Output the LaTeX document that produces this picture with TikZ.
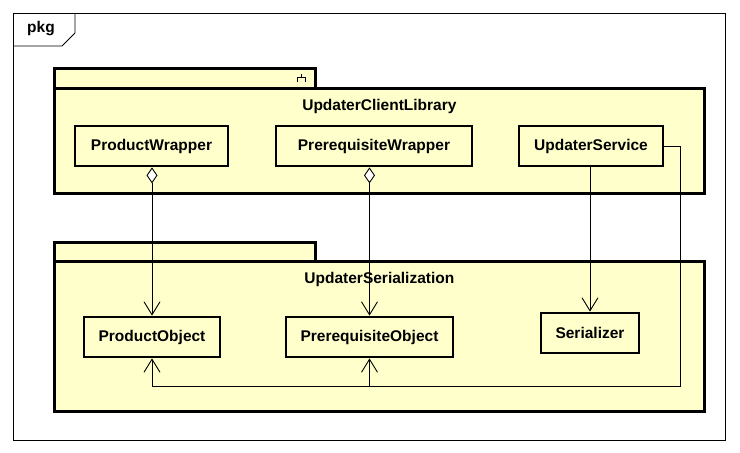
\documentclass[tikz,border=0pt]{standalone}
\usepackage{fontspec}
\setmainfont{Liberation Sans}
\usetikzlibrary{arrows.meta}

\definecolor{pkgyellow}{RGB}{255,255,204}

\begin{document}
\begin{tikzpicture}[
  x=1pt, y=-1pt,
  font=\fontsize{15.5}{18}\selectfont\bfseries,
  box/.style={draw, line width=2.8pt, fill=pkgyellow, inner sep=0pt},
  tab/.style={box, anchor=north west, minimum width=261pt, minimum height=20pt},
  pkgbody/.style={box, anchor=north west, minimum width=650pt},
  cls/.style={box, minimum height=40pt},
  pkgname/.style={anchor=north, yshift=-9pt},
  arr/.style={-{Straight Barb[length=13pt, width=16pt]}, line width=0.9pt},
  agg/.style={{Diamond[length=16pt, width=11pt, fill=white]}-{Straight Barb[length=13pt, width=16pt]},
              line width=0.9pt}
]
  \useasboundingbox (0,0) rectangle (740,453);

  % frame
  \draw[line width=0.9pt] (13,13) rectangle (725,440);
  \draw[line width=0.9pt] (13,46) -- (62,46) -- (75,33) -- (75,13);
  \node (pkg) at (41,29) {pkg};

  % UpdaterClientLibrary
  \node[tab]                          (libtab) at (53,67)  {};
  \node[pkgbody, minimum height=105pt] (lib)    at (53,87)  {};
  \node[pkgname] (libname) at (lib.north) {UpdaterClientLibrary};
  \draw[line width=0.9pt] (301,74) -- (301,77) (297,81.5) -- (297,77) -- (305,77) -- (305,81.5);

  % UpdaterSerialization
  \node[tab]                          (sertab) at (53,241) {};
  \node[pkgbody, minimum height=150pt] (ser)    at (53,260) {};
  \node[pkgname] (sername) at (ser.north) {UpdaterSerialization};

  % classes
  \node[cls, minimum width=153pt] (prodwrap) at (151.5,146) {ProductWrapper};
  \node[cls, minimum width=196pt] (prewrap)  at (374,146)   {PrerequisiteWrapper};
  \node[cls, minimum width=144pt] (service)  at (591,146)   {UpdaterService};

  \node[cls, minimum width=136pt] (prodobj)    at (152,337)   {ProductObject};
  \node[cls, minimum width=167pt] (preobj)     at (369.5,337) {PrerequisiteObject};
  \node[cls, minimum width=98pt]  (serializer) at (590,333)   {Serializer};

  % associations
  \draw[agg] (prodwrap.south -| prodobj.north) -- (prodobj.north);
  \draw[agg] (prewrap.south -| preobj.north) -- (preobj.north);
  \draw[arr] (service.south -| serializer.north) -- (serializer.north);

  \coordinate (bend) at (680,386);
  \draw[arr] (service.east) -| (bend) -| (prodobj.south);
  \draw[arr] (bend -| preobj.south) -- (preobj.south);
\end{tikzpicture}
\end{document}
